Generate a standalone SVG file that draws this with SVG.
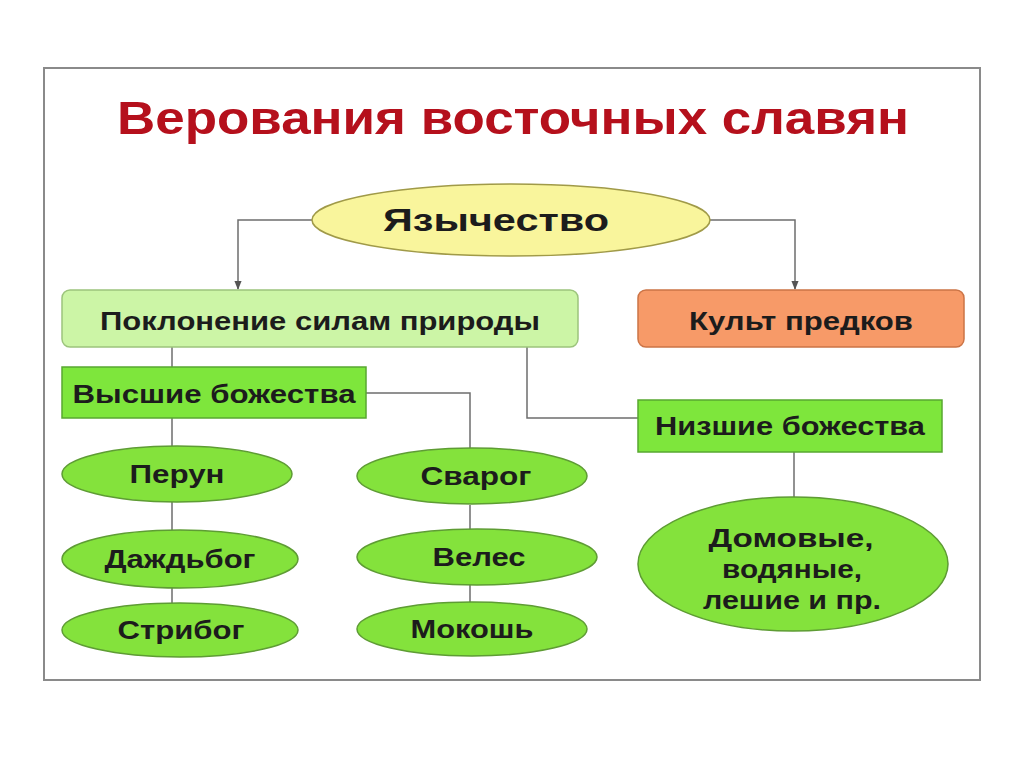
<svg xmlns="http://www.w3.org/2000/svg" width="1024" height="767" viewBox="0 0 1024 767">
<style>
text{font-family:"Liberation Sans",Arial,sans-serif;font-weight:bold;text-anchor:middle;fill:#1c1c1c}
.lbl{font-size:25px}
.conn{fill:none;stroke:#6e6e6e;stroke-width:1.5}
.oval{fill:#84e23c;stroke:#5e9c34;stroke-width:1.5}
.sq{fill:#7ee63c;stroke:#58a830;stroke-width:1.5}
</style>
<defs>
<marker id="arr" viewBox="0 0 10 10" refX="9" refY="5" markerWidth="6" markerHeight="6" orient="auto">
<path d="M0,1 L10,5 L0,9 z" fill="#555"/>
</marker>
</defs>
<rect x="0" y="0" width="1024" height="767" fill="#ffffff"/>
<rect x="44" y="68" width="936" height="612" fill="#ffffff" stroke="#8a8a8a" stroke-width="2"/>
<text x="513" y="134" style="font-size:46px;fill:#b5101c" textLength="792" lengthAdjust="spacingAndGlyphs">Верования восточных славян</text>

<g id="connectors">
<path class="conn" d="M312,220 H238 V289" marker-end="url(#arr)"/>
<path class="conn" d="M710,220 H795 V289" marker-end="url(#arr)"/>
<path class="conn" d="M172,347 V367"/>
<path class="conn" d="M172,418 V446 M172,502 V530 M172,588 V603"/>
<path class="conn" d="M366,393 H470 V448"/>
<path class="conn" d="M470,505 V530 M470,585 V603"/>
<path class="conn" d="M527,347 V418 H638"/>
<path class="conn" d="M794,452 V497"/>
</g>

<g id="paganism">
<ellipse cx="511" cy="220" rx="199" ry="36" fill="#f9f59c" stroke="#a09a48" stroke-width="1.5"/>
<text x="496" y="231" style="font-size:32px" textLength="226" lengthAdjust="spacingAndGlyphs">Язычество</text>
</g>
<g id="nature">
<rect x="62" y="290" width="516" height="57" rx="8" fill="#ccf5a6" stroke="#9cc47c" stroke-width="1.5"/>
<text class="lbl" x="320" y="330" textLength="440" lengthAdjust="spacingAndGlyphs">Поклонение силам природы</text>
</g>
<g id="ancestors">
<rect x="638" y="290" width="326" height="57" rx="8" fill="#f79a68" stroke="#cc7446" stroke-width="1.5"/>
<text class="lbl" x="801" y="330" textLength="224" lengthAdjust="spacingAndGlyphs">Культ предков</text>
</g>
<g id="higher">
<rect class="sq" x="62" y="367" width="304" height="51"/>
<text class="lbl" x="214" y="403" textLength="283" lengthAdjust="spacingAndGlyphs">Высшие божества</text>
</g>
<g id="lower">
<rect class="sq" x="638" y="400" width="304" height="52"/>
<text class="lbl" x="790" y="435" textLength="270" lengthAdjust="spacingAndGlyphs">Низшие божества</text>
</g>
<g id="perun">
<ellipse class="oval" cx="177" cy="474" rx="115" ry="28"/>
<text class="lbl" x="177" y="483" textLength="95" lengthAdjust="spacingAndGlyphs">Перун</text>
</g>
<g id="dazhdbog">
<ellipse class="oval" cx="180" cy="559" rx="118" ry="29"/>
<text class="lbl" x="180" y="568" textLength="151" lengthAdjust="spacingAndGlyphs">Даждьбог</text>
</g>
<g id="stribog">
<ellipse class="oval" cx="180" cy="630" rx="118" ry="27"/>
<text class="lbl" x="181" y="639" textLength="127" lengthAdjust="spacingAndGlyphs">Стрибог</text>
</g>
<g id="svarog">
<ellipse class="oval" cx="472" cy="476" rx="115" ry="28"/>
<text class="lbl" x="476" y="485" textLength="111" lengthAdjust="spacingAndGlyphs">Сварог</text>
</g>
<g id="veles">
<ellipse class="oval" cx="477" cy="557" rx="120" ry="28"/>
<text class="lbl" x="479" y="566" textLength="93" lengthAdjust="spacingAndGlyphs">Велес</text>
</g>
<g id="mokosh">
<ellipse class="oval" cx="472" cy="629" rx="115" ry="27"/>
<text class="lbl" x="472" y="638" textLength="123" lengthAdjust="spacingAndGlyphs">Мокошь</text>
</g>
<g id="spirits">
<ellipse class="oval" cx="793" cy="564" rx="155" ry="67"/>
<text class="lbl" x="791" y="547" textLength="165" lengthAdjust="spacingAndGlyphs">Домовые,</text>
<text class="lbl" x="792" y="578" textLength="140" lengthAdjust="spacingAndGlyphs">водяные,</text>
<text class="lbl" x="792" y="609" textLength="178" lengthAdjust="spacingAndGlyphs">лешие и пр.</text>
</g>
</svg>
